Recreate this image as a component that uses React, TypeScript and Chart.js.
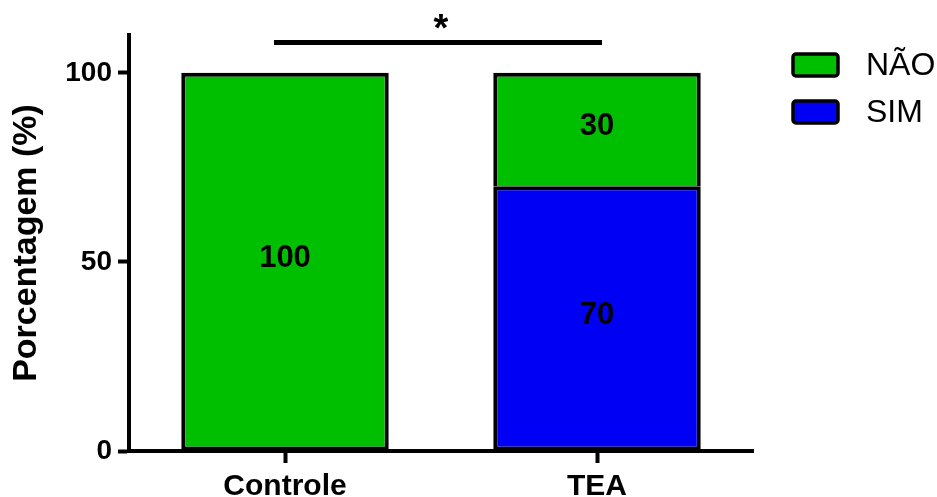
import React, { useEffect, useRef } from "react";
import { Chart, registerables } from "chart.js";

Chart.register(...registerables);

// ---- data ----
const categories = ["Controle", "TEA"];
const simValues: (number | null)[] = [null, 70];
const naoValues: (number | null)[] = [100, 30];
const seriesNao = "NÃO";
const seriesSim = "SIM";
const yTickValues = [0, 50, 100];
const yMax = 110;
const yTitle = "Porcentagem (%)";
const significanceMark = "*";
const significanceLevel = 108;

// ---- styles ----
const GREEN = "#00BE00";
const BLUE = "#0000F4";
const FONT = "'Liberation Sans', Arial, Helvetica, sans-serif";

const barLabelsPlugin = {
  id: "barLabels",
  afterDatasetsDraw(chart: any) {
    const ctx = chart.ctx;
    ctx.save();
    ctx.font = `bold 31px ${FONT}`;
    ctx.fillStyle = "#000";
    ctx.textAlign = "center";
    ctx.textBaseline = "middle";
    chart.data.datasets.forEach((ds: any, i: number) => {
      const meta = chart.getDatasetMeta(i);
      meta.data.forEach((el: any, j: number) => {
        const v = ds.data[j];
        if (v == null || v === 0) return;
        const p = el.getProps(["x", "y", "base"], true);
        ctx.fillText(String(v), p.x, (p.y + p.base) / 2 - 3);
      });
    });
    ctx.restore();
  },
};

const significancePlugin = {
  id: "significance",
  afterDraw(chart: any) {
    const ctx = chart.ctx;
    const xs = chart.scales.x;
    const ys = chart.scales.y;
    const x0 = xs.getPixelForValue(0) - 11;
    const x1 = xs.getPixelForValue(1) + 5;
    const y = ys.getPixelForValue(significanceLevel);
    ctx.save();
    ctx.strokeStyle = "#000";
    ctx.lineWidth = 5;
    ctx.beginPath();
    ctx.moveTo(x0, y);
    ctx.lineTo(x1, y);
    ctx.stroke();
    ctx.font = `bold 38px ${FONT}`;
    ctx.fillStyle = "#000";
    ctx.textAlign = "center";
    ctx.textBaseline = "alphabetic";
    ctx.fillText(significanceMark, (x0 + x1) / 2 + 3, y - 2);
    ctx.restore();
  },
};

const legendPlugin = {
  id: "customLegend",
  afterDraw(chart: any) {
    const ctx = chart.ctx;
    const area = chart.chartArea;
    const items = [
      { label: seriesNao, color: GREEN },
      { label: seriesSim, color: BLUE },
    ];
    ctx.save();
    const bx = area.right + 40;
    let by = area.top + 19;
    items.forEach((it) => {
      ctx.beginPath();
      (ctx as any).roundRect(bx, by, 45, 22, 3);
      ctx.fillStyle = it.color;
      ctx.fill();
      ctx.lineWidth = 3.5;
      ctx.strokeStyle = "#000";
      ctx.stroke();
      ctx.font = `32px ${FONT}`;
      ctx.fillStyle = "#000";
      ctx.textAlign = "left";
      ctx.textBaseline = "middle";
      ctx.fillText(it.label, bx + 73, by + 12);
      by += 47;
    });
    ctx.restore();
  },
};

export default function App() {
  const ref = useRef<HTMLCanvasElement>(null);

  useEffect(() => {
    if (!ref.current) return;
    const chart = new Chart(ref.current, {
      type: "bar",
      data: {
        labels: categories,
        datasets: [
          {
            label: seriesSim,
            data: simValues,
            backgroundColor: BLUE,
            borderColor: "#000",
            borderWidth: 4,
            borderSkipped: false,
          },
          {
            label: seriesNao,
            data: naoValues,
            backgroundColor: GREEN,
            borderColor: "#000",
            borderWidth: (c: any) =>
              simValues[c.dataIndex] != null
                ? { top: 4, left: 4, right: 4, bottom: 0 }
                : 4,
            borderSkipped: false,
          },
        ] as any,
      },
      options: {
        animation: false,
        responsive: false,
        devicePixelRatio: 1,
        layout: { padding: { left: 0, right: 184, top: 35, bottom: 0 } },
        datasets: {
          bar: { barPercentage: 0.665, categoryPercentage: 1 },
        } as any,
        plugins: {
          legend: { display: false },
          tooltip: { enabled: false },
        },
        scales: {
          x: {
            stacked: true,
            offset: true,
            grid: {
              offset: false,
              drawOnChartArea: false,
              drawTicks: true,
              tickLength: 12,
              tickWidth: 4,
              tickColor: "#000",
              color: "#000",
            },
            border: { display: true, color: "#000", width: 4 },
            ticks: {
              color: "#000",
              padding: 6,
              font: { family: FONT, size: 30, weight: "bold" },
            },
            afterFit(scale: any) {
              scale.height = 46;
            },
          },
          y: {
            stacked: true,
            min: 0,
            max: yMax,
            grid: {
              drawOnChartArea: false,
              drawTicks: true,
              tickLength: 11,
              tickWidth: 4,
              tickColor: "#000",
              color: "#000",
            },
            border: { display: true, color: "#000", width: 4 },
            ticks: {
              color: "#000",
              padding: 6,
              stepSize: 50,
              font: { family: FONT, size: 28, weight: "bold" },
            },
            afterBuildTicks(scale: any) {
              scale.ticks = yTickValues.map((v) => ({ value: v }));
            },
            title: {
              display: true,
              text: yTitle,
              color: "#000",
              padding: { top: 6, bottom: 0 },
              font: { family: FONT, size: 34, weight: "bold", lineHeight: 1.2 },
            },
            afterFit(scale: any) {
              scale.width = 129;
            },
          },
        },
      } as any,
      plugins: [barLabelsPlugin, significancePlugin, legendPlugin],
    });
    return () => chart.destroy();
  }, []);

  return (
    <div style={{ position: "fixed", left: 0, top: 0, width: 937, height: 497, background: "#fff" }}>
      <canvas ref={ref} width={937} height={497} style={{ display: "block" }} />
    </div>
  );
}
